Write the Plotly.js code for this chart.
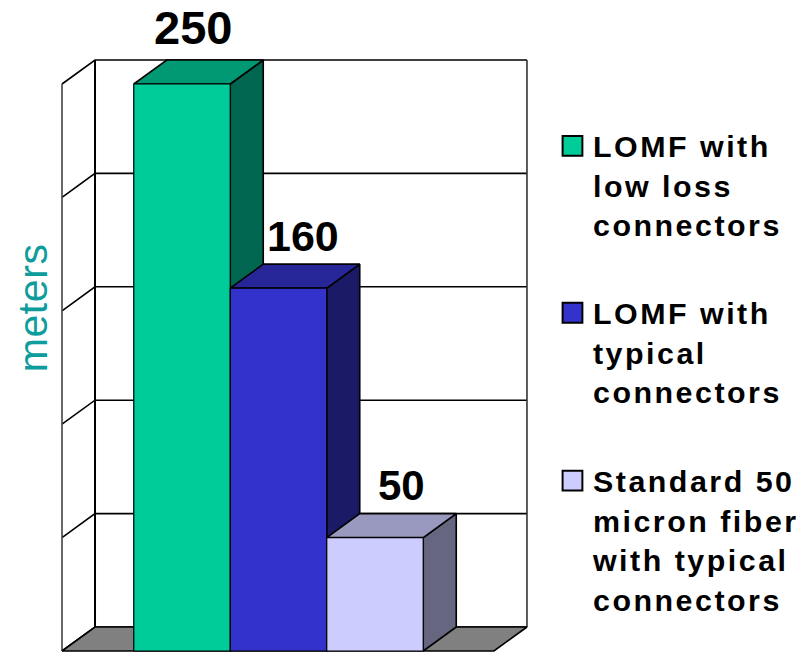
<!DOCTYPE html>
<html>
<head>
<meta charset="utf-8">
<script src="https://cdn.plot.ly/plotly-3.0.1.min.js"></script>
<style>
html,body{margin:0;padding:0;background:#fff}
g[class^="legend"] text{letter-spacing:2.5px}
g.legend .legendpoints, g.legend2 .legendpoints{transform:translate(0,-39px)}
g.legend3 .legendpoints{transform:translate(0,-59px)}
.legendpoints path{transform:translate(19.5px,0) scale(1.65)}
.scrollbox{clip-path:none !important}
g.annotation[data-index="3"] text{letter-spacing:0.6px}
</style>
</head>
<body>
<div id="chart" style="width:806px;height:652px"></div>
<script>
const seriesNames = ['LOMF with<br>low loss<br>connectors','LOMF with<br>typical<br>connectors','Standard 50<br>micron fiber<br>with typical<br>connectors'];
const values = [250,160,50];
const positions = [1,2,3];
const frontColors = ['#00CC99','#3333CC','#CCCCFF'];
const sideColors = ['#006650','#1A1A66','#666680'];
const topColors = ['#009973','#262699','#9999BF'];
const gridValues = [0,50,100,150,200,250];
const labelSizes = [47,43,42];
const labelShiftX = [11,24,27];
const labelShiftY = [33,28,28];
const legendIds = ['legend','legend2','legend3'];
const legendTops = [0.8853,0.608,0.3287];
const yTitle = 'meters';

const depthX = 0.342, depthY = 10.58;
const xLeft = -0.2435, xRight = 4.233;
const halfW = 0.5;
const xRange = [-0.368,4.710], yRange = [-0.44,265];
const lineStyle = {color:'#000',width:1.6};

function poly(xs,ys,fill){
  return {type:'scatter',mode:'lines',x:xs,y:ys,fill:'toself',fillcolor:fill,line:lineStyle,
          hoverinfo:'skip',showlegend:false,xaxis:'x',yaxis:'y'};
}
function ln(xs,ys,w,c){
  return {type:'scatter',mode:'lines',x:xs,y:ys,line:{color:c||'#000',width:w||1.6},
          hoverinfo:'skip',showlegend:false,xaxis:'x',yaxis:'y'};
}
const traces = [];
gridValues.forEach(v=>traces.push(ln([xLeft,xLeft+depthX,xRight+depthX],[v,v+depthY,v+depthY])));
const topV = gridValues[gridValues.length-1];
traces.push(ln([xLeft,xLeft],[0,topV],1.6,'#444'));
traces.push(ln([xLeft+depthX,xLeft+depthX],[depthY,topV+depthY],2));
traces.push(ln([xRight+depthX,xRight+depthX],[depthY,topV+depthY],1.6,'#333'));
traces.push(poly([xLeft,xLeft+depthX,xRight+depthX,xRight,xLeft],[0,depthY,depthY,0,0],'#808080'));
values.forEach((v,i)=>{
  const l=positions[i]-halfW, r=positions[i]+halfW;
  traces.push(poly([r,r+depthX,r+depthX,r,r],[0,depthY,v+depthY,v,0],sideColors[i]));
  traces.push(poly([l,l+depthX,r+depthX,r,l],[v,v+depthY,v+depthY,v,v],topColors[i]));
});
values.forEach((v,i)=>{
  traces.push({type:'bar',x:[positions[i]],y:[v],width:[1],name:seriesNames[i],legend:legendIds[i],
    marker:{color:frontColors[i],line:{color:'#000',width:1.2}},
    hoverinfo:'skip',xaxis:'x2',yaxis:'y2'});
});

const axisBase = {showgrid:false,zeroline:false,showticklabels:false,ticks:'',showline:false};
const annotations = values.map((v,i)=>({
  xref:'x',yref:'y',x:positions[i],y:v+depthY,text:'<b>'+v+'</b>',showarrow:false,
  xshift:labelShiftX[i],yshift:labelShiftY[i],yanchor:'middle',xanchor:'center',
  font:{family:'Liberation Sans',size:labelSizes[i],color:'#000'}
}));
annotations.push({xref:'paper',yref:'paper',x:-0.035,y:0.572,text:yTitle,showarrow:false,textangle:-90,
  xanchor:'center',yanchor:'middle',font:{family:'Liberation Sans',size:41,color:'#0E9C9C'}});

const legendBase = {x:1.0265,xanchor:'left',yanchor:'top',borderwidth:0,bgcolor:'rgba(0,0,0,0)',
    entrywidth:205,entrywidthmode:'pixels',
    font:{family:'Liberation Sans',size:30.4,color:'#000',weight:700}};
const layout = {
  width:806,height:652,margin:{l:50,r:266,t:50,b:0,pad:0},
  paper_bgcolor:'#fff',plot_bgcolor:'#fff',showlegend:true,barmode:'overlay',
  font:{family:'Liberation Sans'},
  xaxis:Object.assign({range:xRange,type:'linear'},axisBase),
  yaxis:Object.assign({range:yRange},axisBase),
  xaxis2:Object.assign({range:xRange,overlaying:'x',type:'linear'},axisBase),
  yaxis2:Object.assign({range:yRange,overlaying:'y'},axisBase),
  annotations:annotations
};
legendIds.forEach((id,i)=>{layout[id]=Object.assign({y:legendTops[i]},legendBase);});
Plotly.newPlot('chart',traces,layout,{displayModeBar:false,staticPlot:true});
</script>
</body>
</html>
